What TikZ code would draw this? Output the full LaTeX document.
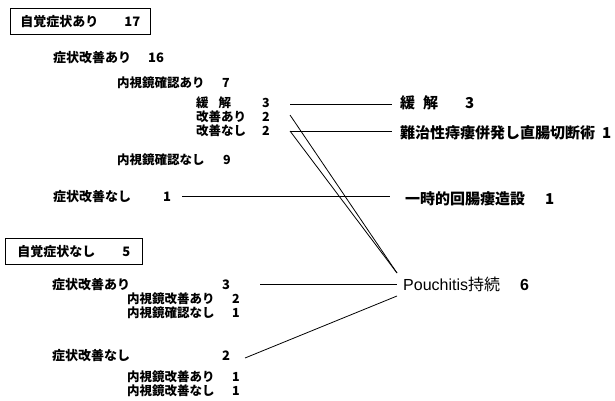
\documentclass[tikz,border=0pt]{standalone}
\usepackage{fontspec}
\newfontfamily\jp{Noto Sans CJK JP}
\newfontfamily\lat{Liberation Sans}
\tikzset{
  big/.style={anchor=west, inner sep=0pt, font=\jp\bfseries\fontsize{13}{13}\selectfont},
  sml/.style={anchor=west, inner sep=0pt, font=\jp\bfseries\fontsize{12.5}{12.5}\selectfont},
  rgt/.style={anchor=west, inner sep=0pt, font=\jp\bfseries\fontsize{15}{15}\selectfont},
  boxn/.style={draw, line width=0.8pt, anchor=west, inner ysep=0pt, minimum height=26pt, font=\jp\bfseries\fontsize{13}{13}\selectfont},
  lnk/.style={line width=0.8pt}
}
\begin{document}
\begin{tikzpicture}[x=1pt,y=-1pt]
\useasboundingbox (0,0) rectangle (615,400);
% upper group
\node[boxn, inner xsep=10pt] (b1) at (10,21.5) {自覚症状あり\hspace{26pt}17};
\node[big] (t1) at (53,58) {症状改善あり};
\node[big] (n1) at (148,58) {16};
\node[sml] (t2) at (117,83) {内視鏡確認あり};
\node[sml] (n2) at (222,83) {7};
\node[sml] (t3) at (196,103) {緩\hspace{10pt}解};
\node[sml] (n3) at (262,103) {3};
\node[sml] (t4) at (196,116.5) {改善あり};
\node[sml] (n4) at (262,116.5) {2};
\node[sml] (t5) at (196,130.5) {改善なし};
\node[sml] (n5) at (262,130.5) {2};
\node[sml] (t6) at (117,160) {内視鏡確認なし};
\node[sml] (n6) at (223,160) {9};
\node[big] (t7) at (53,197) {症状改善なし};
\node[big] (n7) at (163,197) {1};
% lower group
\node[boxn, inner xsep=12pt] (b2) at (5,251.5) {自覚症状なし\hspace{27pt}5};
\node[big] (t8) at (52,285) {症状改善あり};
\node[big] (n8) at (222,285) {3};
\node[sml] (t9) at (127,299) {内視鏡改善あり};
\node[sml] (n9) at (232,299) {2};
\node[sml] (t10) at (127,312.5) {内視鏡確認なし};
\node[sml] (n10) at (232,312.5) {1};
\node[big] (t11) at (52,356) {症状改善なし};
\node[big] (n11) at (222,356) {2};
\node[sml] (t12) at (127,377) {内視鏡改善あり};
\node[sml] (n12) at (232,377) {1};
\node[sml] (t13) at (127,391) {内視鏡改善なし};
\node[sml] (n13) at (232,391) {1};
% right outcomes
\node[rgt] (r1) at (400,103) {緩\hspace{8pt}解\hspace{27pt}3};
\node[rgt] (r2) at (400,133) {難治性痔瘻併発し直腸切断術\hspace{7pt}1};
\node[rgt] (r3) at (405,199) {一時的回腸瘻造設\hspace{20pt}1};
\node[anchor=west, inner sep=0pt, font=\fontsize{16}{16}\selectfont] (r4) at (403,284) {\lat Pouchitis\jp 持続\hspace{20pt}\lat\bfseries 6};
% connector end points
\coordinate (s3) at (290,104);
\coordinate (s4) at (290,115);
\coordinate (s5) at (290,131);
\coordinate (s7) at (182,196);
\coordinate (s8) at (260,284);
\coordinate (s11) at (245,358);
\coordinate (e1) at (392,104);
\coordinate (e2) at (392,131);
\coordinate (e3) at (390,196);
\coordinate (p1) at (397,273);
\coordinate (p2) at (397,284);
\coordinate (p3) at (397,296);
\draw[lnk] (s3) -- (e1);
\draw[lnk] (s5) -- (e2);
\draw[lnk] (s4) -- (p1);
\draw[lnk] (s5) -- (p1);
\draw[lnk] (s7) -- (e3);
\draw[lnk] (s8) -- (p2);
\draw[lnk] (s11) -- (p3);
\end{tikzpicture}
\end{document}
